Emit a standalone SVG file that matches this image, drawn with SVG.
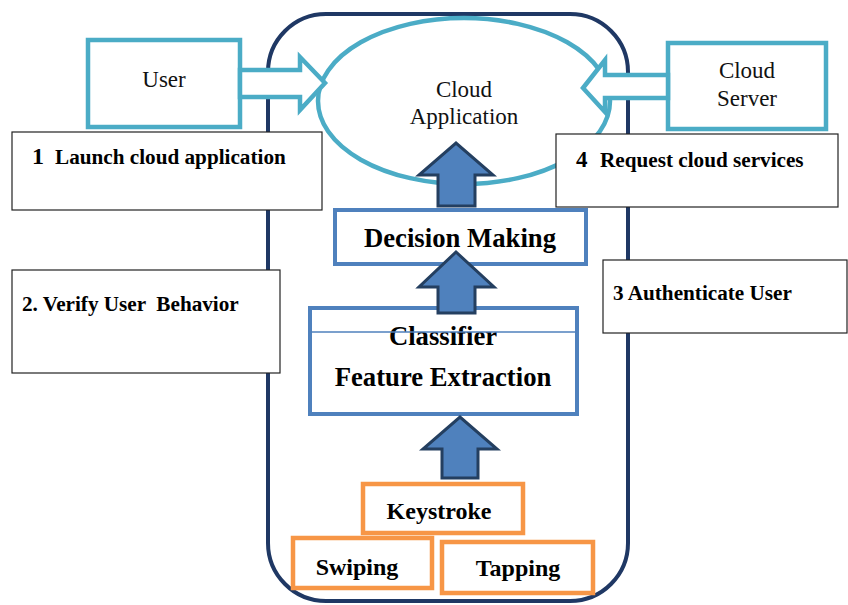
<svg xmlns="http://www.w3.org/2000/svg" width="848" height="605" viewBox="0 0 848 605">
<style>
.bg{fill:#fff}
.frame{fill:none;stroke:#1F3864;stroke-width:4}
.cy{fill:#fff;stroke:#4BACC6;stroke-width:4.5}
.bl{fill:#fff;stroke:#4F81BD;stroke-width:4}
.or{fill:#fff;stroke:#F79646;stroke-width:4.5}
.note{fill:#fff;stroke:#222;stroke-width:1.2}
.barrow{fill:#4F81BD;stroke:#243F60;stroke-width:3;stroke-linejoin:miter}
text{font-family:'Liberation Serif','DejaVu Serif',serif}
.reg{font-size:23px;fill:#111}
.bold{font-weight:bold;font-size:21.2px;fill:#000}
.big{font-weight:bold;font-size:26.7px;fill:#000}
.mid{font-weight:bold;font-size:24px;fill:#000}
</style>
<rect class="bg" width="848" height="605"/>
<g id="frame"><rect class="frame" x="268" y="14" width="360" height="587" rx="58" ry="58"/></g>
<g id="cloud-app">
<ellipse class="cy" cx="464" cy="101" rx="146" ry="83"/>
<text class="reg" x="464" y="97" text-anchor="middle">Cloud</text>
<text class="reg" x="464" y="124" text-anchor="middle">Application</text>
</g>
<g id="user">
<rect class="cy" x="88" y="40" width="152" height="87"/>
<text class="reg" x="164" y="87" text-anchor="middle">User</text>
</g>
<g id="cloud-server">
<rect class="cy" x="668" y="43" width="158" height="86"/>
<text class="reg" x="747" y="78" text-anchor="middle">Cloud</text>
<text class="reg" x="747" y="106" text-anchor="middle">Server</text>
</g>
<g id="decision">
<rect class="bl" x="335" y="210" width="251" height="54"/>
<text class="big" x="460" y="247" text-anchor="middle">Decision Making</text>
</g>
<g id="classifier">
<rect class="bl" x="310" y="308" width="267" height="106"/>
<text class="big" x="443" y="345" text-anchor="middle">Classifier</text>
<line x1="310" y1="332" x2="577" y2="332" stroke="#4F81BD" stroke-width="1.5"/>
<text class="big" x="443" y="386" text-anchor="middle">Feature Extraction</text>
</g>
<g id="keystroke">
<rect class="or" x="363" y="484" width="160" height="49"/>
<text class="mid" x="439" y="519" text-anchor="middle">Keystroke</text>
</g>
<g id="swiping">
<rect class="or" x="293" y="538" width="139" height="50"/>
<text class="mid" x="357" y="575" text-anchor="middle">Swiping</text>
</g>
<g id="tapping">
<rect class="or" x="442" y="542" width="151" height="51"/>
<text class="mid" x="518" y="576" text-anchor="middle">Tapping</text>
</g>
<g id="connectors">
<polygon class="cy" points="240,70 300,70 300,57 325,83 300,110 300,97 240,97"/>
<polygon class="cy" points="668,75 605,75 605,60 583,88 605,112 605,98 668,98"/>
<polygon class="barrow" points="438,206 438,175 419,175 456,143 493,175 475,175 475,206"/>
<polygon class="barrow" points="438,313 438,287 419,287 456,252 494,287 475,287 475,313"/>
<polygon class="barrow" points="442,478 442,449 423,449 460,417 497,449 478,449 478,478"/>
</g>
<g id="step1">
<rect class="note" x="12" y="132" width="310" height="78"/>
<text class="bold" x="32" y="164"><tspan font-size="24">1</tspan><tspan x="55">Launch cloud application</tspan></text>
</g>
<g id="step2">
<rect class="note" x="12" y="270" width="268" height="103"/>
<text class="bold" x="22" y="311" xml:space="preserve">2. Verify User  Behavior</text>
</g>
<g id="step3">
<rect class="note" x="603" y="260" width="244" height="73"/>
<text class="bold" x="613" y="300">3 Authenticate User</text>
</g>
<g id="step4">
<rect class="note" x="556" y="134" width="282" height="73"/>
<text class="bold" x="576" y="167"><tspan font-size="23">4</tspan><tspan x="600">Request cloud services</tspan></text>
</g>
</svg>
